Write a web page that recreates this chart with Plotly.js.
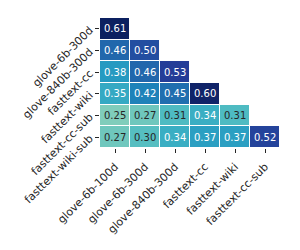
<!DOCTYPE html>
<html><head><meta charset="utf-8">
<script src="https://cdn.plot.ly/plotly-3.0.1.min.js"></script>
<style>html,body{margin:0;padding:0;background:#fff}</style>
</head><body>
<div id="chart" style="width:300px;height:250px"></div>
<script>
const rowLabels = ["glove-6b-300d","glove-840b-300d","fasttext-cc","fasttext-wiki","fasttext-cc-sub","fasttext-wiki-sub"];
const colLabels = ["glove-6b-100d","glove-6b-300d","glove-840b-300d","fasttext-cc","fasttext-wiki","fasttext-cc-sub"];
const values = [
  [0.61, null, null, null, null, null],
  [0.46, 0.50, null, null, null, null],
  [0.38, 0.46, 0.53, null, null, null],
  [0.35, 0.42, 0.45, 0.60, null, null],
  [0.25, 0.27, 0.31, 0.34, 0.31, null],
  [0.27, 0.30, 0.34, 0.37, 0.37, 0.52]
];
const colorscale = [[0,'#ffffd9'],[0.125,'#edf8b1'],[0.25,'#c7e9b4'],[0.375,'#7fcdbb'],[0.5,'#41b6c4'],[0.625,'#1d91c0'],[0.75,'#225ea8'],[0.875,'#253494'],[1,'#081d58']];
const zmin = 0.03, zmax = 0.62;
const annotations = [];
values.forEach((row, i) => row.forEach((v, j) => {
  if (v === null) return;
  annotations.push({x: colLabels[j], y: rowLabels[i], xref:'x', yref:'y', text: v.toFixed(2), showarrow:false,
    font:{family:'DejaVu Sans', size:10, color: (v > 0.325) ? '#ffffff' : '#262626'}});
}));
const trace = {type:'heatmap', z: values, x: colLabels, y: rowLabels, colorscale: colorscale, zmin: zmin, zmax: zmax,
  showscale:false, xgap:1, ygap:1, hoverongaps:false};
const layout = {
  width:300, height:250, margin:{l:100, r:20, t:18, b:102},
  paper_bgcolor:'#fff', plot_bgcolor:'#fff',
  font:{family:'DejaVu Sans', size:11, color:'#262626'},
  xaxis:{type:'category', tickangle:-45, ticks:'outside', ticklen:4, tickwidth:1, tickcolor:'#262626', showgrid:false, zeroline:false, showline:false, tickfont:{size:11}, ticklabelstandoff:3},
  yaxis:{type:'category', autorange:'reversed', tickangle:-45, ticks:'outside', ticklen:4, tickwidth:1, tickcolor:'#262626', showgrid:false, zeroline:false, showline:false, tickfont:{size:11}, ticklabelstandoff:3},
  annotations: annotations
};
Plotly.newPlot('chart', [trace], layout, {displayModeBar:false, staticPlot:true});
</script>
</body></html>
